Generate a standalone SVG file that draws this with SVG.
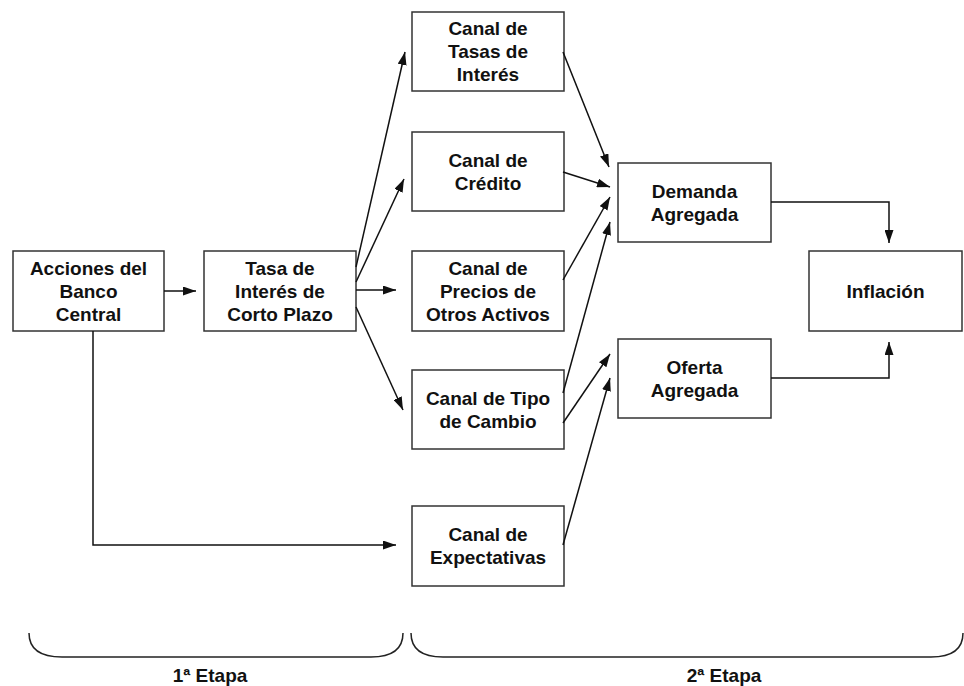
<svg xmlns="http://www.w3.org/2000/svg" width="964" height="686" viewBox="0 0 964 686">
<style>
  .box { fill: #ffffff; stroke: #333333; stroke-width: 1.5; }
  .lbl { font-family: "Liberation Sans", Arial, sans-serif; font-weight: bold; font-size: 19px; fill: #111111; text-anchor: middle; }
  .con { fill: none; stroke: #111111; stroke-width: 1.5; marker-end: url(#ah); }
  .brace { fill: none; stroke: #222222; stroke-width: 1.5; }
</style>
<defs>
  <marker id="ah" viewBox="0 0 13 9" refX="13" refY="4.5" markerWidth="13" markerHeight="9" markerUnits="userSpaceOnUse" orient="auto">
    <path d="M0,0 L13,4.5 L0,9 Z" fill="#111111"/>
  </marker>
</defs>
<rect width="964" height="686" fill="#ffffff"/>

<g id="acciones">
  <rect class="box" x="13" y="251" width="151" height="80"/>
  <text class="lbl" x="88.5" y="275">Acciones del</text>
  <text class="lbl" x="88.5" y="298">Banco</text>
  <text class="lbl" x="88.5" y="321">Central</text>
</g>
<g id="tasa-corto">
  <rect class="box" x="204" y="251" width="152" height="80"/>
  <text class="lbl" x="280" y="275">Tasa de</text>
  <text class="lbl" x="280" y="298">Interés de</text>
  <text class="lbl" x="280" y="321">Corto Plazo</text>
</g>
<g id="canal-tasas">
  <rect class="box" x="412" y="12" width="152" height="79"/>
  <text class="lbl" x="488" y="35">Canal de</text>
  <text class="lbl" x="488" y="58">Tasas de</text>
  <text class="lbl" x="488" y="81">Interés</text>
</g>
<g id="canal-credito">
  <rect class="box" x="412" y="132" width="152" height="79"/>
  <text class="lbl" x="488" y="167">Canal de</text>
  <text class="lbl" x="488" y="190">Crédito</text>
</g>
<g id="canal-precios">
  <rect class="box" x="412" y="251" width="152" height="80"/>
  <text class="lbl" x="488" y="275">Canal de</text>
  <text class="lbl" x="488" y="298">Precios de</text>
  <text class="lbl" x="488" y="321">Otros Activos</text>
</g>
<g id="canal-tipo">
  <rect class="box" x="412" y="370" width="152" height="79"/>
  <text class="lbl" x="488" y="405">Canal de Tipo</text>
  <text class="lbl" x="488" y="428">de Cambio</text>
</g>
<g id="canal-expectativas">
  <rect class="box" x="412" y="506" width="152" height="80"/>
  <text class="lbl" x="488" y="541">Canal de</text>
  <text class="lbl" x="488" y="564">Expectativas</text>
</g>
<g id="demanda">
  <rect class="box" x="618" y="163" width="153" height="79"/>
  <text class="lbl" x="694.5" y="198">Demanda</text>
  <text class="lbl" x="694.5" y="221">Agregada</text>
</g>
<g id="oferta">
  <rect class="box" x="618" y="339" width="153" height="79"/>
  <text class="lbl" x="694.5" y="374">Oferta</text>
  <text class="lbl" x="694.5" y="397">Agregada</text>
</g>
<g id="inflacion">
  <rect class="box" x="809" y="251" width="153" height="80"/>
  <text class="lbl" x="885.5" y="298">Inflación</text>
</g>

<g id="connectors">
  <line class="con" x1="164" y1="291" x2="196" y2="291"/>
  <line class="con" x1="356" y1="267" x2="405" y2="52"/>
  <line class="con" x1="356" y1="282" x2="404" y2="179"/>
  <line class="con" x1="356" y1="290" x2="396" y2="290"/>
  <line class="con" x1="356" y1="307" x2="403" y2="410"/>
  <polyline class="con" points="93,331 93,545 396,545"/>
  <line class="con" x1="563" y1="52" x2="609" y2="167"/>
  <line class="con" x1="563" y1="172" x2="610" y2="187"/>
  <line class="con" x1="563" y1="280" x2="610" y2="197"/>
  <line class="con" x1="563" y1="393" x2="610" y2="222"/>
  <line class="con" x1="563" y1="423" x2="610" y2="354"/>
  <line class="con" x1="563" y1="545" x2="610" y2="378"/>
  <polyline class="con" points="771,202 889,202 889,243"/>
  <polyline class="con" points="771,378 889,378 889,342"/>
</g>

<g id="braces">
  <path class="brace" d="M29,633 C29,650 42,657 62,657 L371,657 C391,657 403,650 403,633"/>
  <path class="brace" d="M411,633 C411,650 423,657 443,657 L931,657 C951,657 963,650 963,633"/>
  <text class="lbl" x="210" y="682">1ª Etapa</text>
  <text class="lbl" x="724" y="682">2ª Etapa</text>
</g>
</svg>
